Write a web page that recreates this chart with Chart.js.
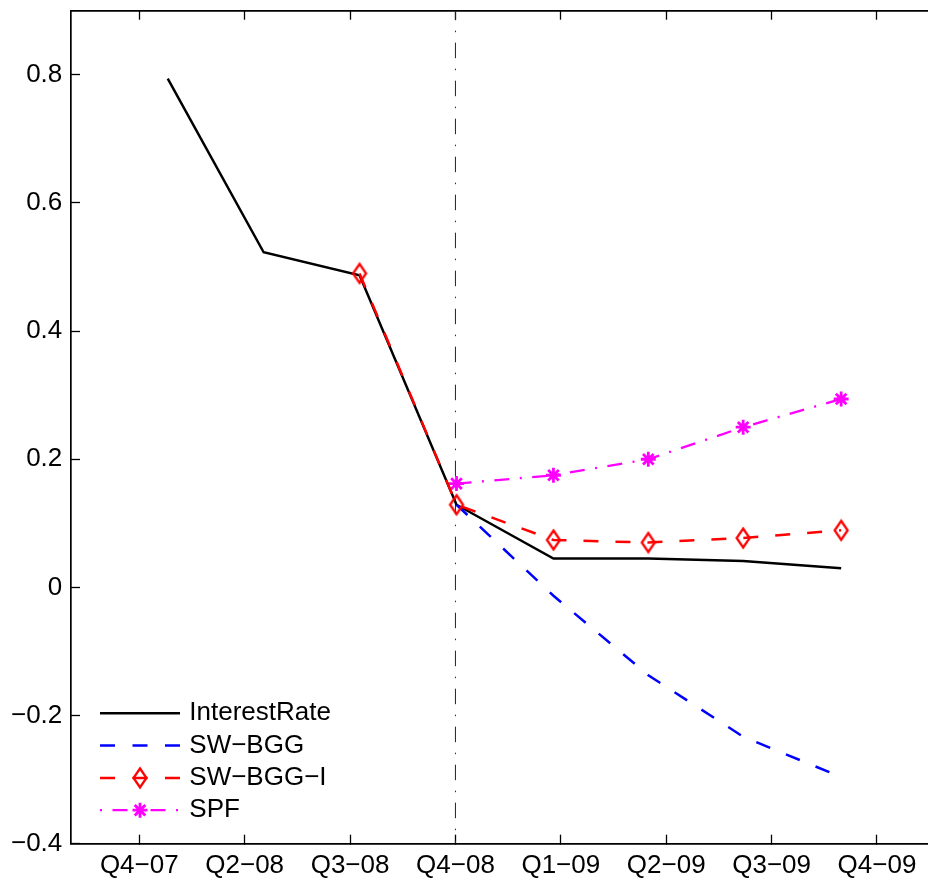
<!DOCTYPE html>
<html>
<head>
<meta charset="utf-8">
<script src="https://cdn.jsdelivr.net/npm/chart.js@4.4.1/dist/chart.umd.min.js"></script>
<style>
html,body{margin:0;padding:0;background:#fff;overflow:hidden}
canvas{display:block}
</style>
</head>
<body>
<canvas id="c" width="928" height="881" style="width:928px;height:881px"></canvas>
<script>
// ---- data ----
const tickLabels = ['Q4\u221207','Q2\u221208','Q3\u221208','Q4\u221208','Q1\u221209','Q2\u221209','Q3\u221209','Q4\u221209'];
const tickPositions = [0, 1, 2, 3, 4, 5, 6, 7];
const periods = [0.27, 1.18, 2.09, 3.01, 3.93, 4.83, 5.73, 6.66];
const interestRate = [0.794, 0.523, 0.487, 0.129, 0.045, 0.045, 0.041, 0.030];
const swBGG = [null, null, null, 0.129, -0.013, -0.137, -0.233, -0.296];
const swBGGI = [null, null, 0.490, 0.129, 0.074, 0.070, 0.077, 0.089];
const spf = [null, null, null, 0.162, 0.175, 0.200, 0.250, 0.294];
const seriesNames = ['InterestRate', 'SW\u2212BGG', 'SW\u2212BGG\u2212I', 'SPF'];
const yTicks = [-0.4, -0.2, 0, 0.2, 0.4, 0.6, 0.8];
const yRange = [-0.4, 0.9];
const xRange = [-0.648, 7.484];
const forecastStart = 3;

// ---- helpers ----
const toXY = (xs, ys) => xs.map((x, i) => ({x: x, y: ys[i]}));
const fmtY = v => v === 0 ? '0' : (v < 0 ? '\u2212' : '') + Math.abs(v).toFixed(1);

function makeDiamond() {
  const cv = document.createElement('canvas');
  cv.width = 18; cv.height = 24;
  const g = cv.getContext('2d');
  g.strokeStyle = '#ff0000';
  g.lineWidth = 2.3;
  g.beginPath();
  g.moveTo(9, 2.5); g.lineTo(15.5, 12); g.lineTo(9, 21.5); g.lineTo(2.5, 12); g.closePath();
  g.stroke();
  return cv;
}
const diamond = makeDiamond();

const FONT = '"Liberation Sans", Arial, Helvetica, sans-serif';
Chart.defaults.font.family = FONT;
Chart.defaults.font.size = 26;
Chart.defaults.color = '#000';

const legendDash = [[], [15, 17.5], [15, 17.5], [2, 10.5, 15, 10.5]];
const LEG = {x: 100, y: 713.3, len: 80, pad: 6.3, gapText: 76.3};

const fixPad = s => { s.paddingTop = 0; s.paddingBottom = 0; s.paddingLeft = 0; s.paddingRight = 0; };
const setTicks = vals => (scale => { scale.ticks = vals.map(v => ({value: v})); });

const legendPlugin = {
  id: 'legendPlugin',
  afterUpdate(chart) {
    const lg = chart.legend;
    if (!lg) return;
    const fs = 26;
    lg.left = LEG.x - LEG.pad;
    lg.top = LEG.y - fs / 2 - LEG.pad;
    lg.right = lg.left + 300;
    lg.width = 300;
    lg.bottom = chart.chartArea.bottom;
    lg.height = lg.bottom - lg.top;
  },
  afterDraw(chart) {
    const lg = chart.legend;
    if (!lg) return;
    const ctx = chart.ctx;
    const fs = 26;
    lg.legendItems.forEach((item, i) => {
      const ds = chart.data.datasets[item.datasetIndex];
      const y = lg.top + LEG.pad + i * (fs + LEG.pad) + fs / 2;
      const x0 = lg.left + LEG.pad;
      ctx.save();
      ctx.strokeStyle = ds.borderColor;
      ctx.lineWidth = ds.borderWidth;
      ctx.setLineDash(legendDash[item.datasetIndex] || []);
      ctx.beginPath();
      ctx.moveTo(x0, y);
      ctx.lineTo(x0 + LEG.len + (item.datasetIndex === 3 ? 1.5 : 0), y);
      ctx.stroke();
      ctx.setLineDash([]);
      const cx = x0 + LEG.len / 2;
      if (ds.pointStyle === diamond) {
        ctx.drawImage(diamond, cx - diamond.width / 2, y - diamond.height / 2);
      } else if (ds.pointStyle === 'star') {
        const r = ds.pointRadius;
        ctx.strokeStyle = ds.borderColor;
        ctx.lineWidth = ds.pointBorderWidth;
        ctx.beginPath();
        for (let k = 0; k < 4; k++) {
          const a = k * Math.PI / 4;
          ctx.moveTo(cx - Math.cos(a) * r, y - Math.sin(a) * r);
          ctx.lineTo(cx + Math.cos(a) * r, y + Math.sin(a) * r);
        }
        ctx.stroke();
      }
      ctx.restore();
    });
  }
};

const axisGrid = {drawOnChartArea: false, drawTicks: true, tickLength: -9, tickWidth: 1.3, tickColor: '#000'};
const axisBorder = {display: true, color: '#000', width: 1.7};

new Chart(document.getElementById('c'), {
  type: 'line',
  data: {
    datasets: [
      {label: seriesNames[0], data: toXY(periods, interestRate), borderColor: '#000000', backgroundColor: '#000000',
        borderWidth: 2.5, pointRadius: 0, order: 3},
      {label: seriesNames[1], data: toXY(periods, swBGG), borderColor: '#0000ff', backgroundColor: '#0000ff',
        borderWidth: 2.5, borderDash: [15, 17], pointRadius: 0, order: 2},
      {label: seriesNames[2], data: toXY(periods, swBGGI), borderColor: '#ff0000', backgroundColor: 'rgba(0,0,0,0)',
        borderWidth: 2.5, borderDash: [15, 17], pointStyle: diamond, pointRadius: 8, order: 1},
      {label: seriesNames[3], data: toXY(periods, spf), borderColor: '#ff00ff', backgroundColor: '#ff00ff',
        borderWidth: 2.3, borderDash: [15, 10.5, 2, 10.5], pointStyle: 'star', pointRadius: 7.5, pointBorderWidth: 2.8, order: 0},
      {label: 'forecast', data: [{x: forecastStart, y: yRange[1]}, {x: forecastStart, y: yRange[0]}],
        borderColor: '#222222', borderWidth: 1, borderDash: [15.5, 10.5, 1.5, 10.5], borderDashOffset: 6,
        pointRadius: 0, order: 4}
    ]
  },
  options: {
    responsive: false,
    animation: false,
    devicePixelRatio: 1,
    layout: {autoPadding: false, padding: {top: 10.7, right: 0, bottom: 0, left: 0}},
    elements: {line: {tension: 0, borderCapStyle: 'butt'}},
    scales: {
      x: {
        type: 'linear', position: 'bottom', min: xRange[0], max: xRange[1],
        afterBuildTicks: setTicks(tickPositions),
        afterFit: s => { s.height = 37.3; fixPad(s); },
        ticks: {autoSkip: false, maxRotation: 0, padding: 15.2,
          callback: v => { const i = tickPositions.indexOf(v); return i >= 0 ? tickLabels[i] : ''; }},
        grid: axisGrid, border: axisBorder
      },
      x2: {
        type: 'linear', position: 'top', min: xRange[0], max: xRange[1],
        afterBuildTicks: setTicks(tickPositions),
        afterFit: s => { s.height = 0; fixPad(s); },
        ticks: {display: false},
        grid: axisGrid, border: axisBorder
      },
      y: {
        type: 'linear', position: 'left', min: yRange[0], max: yRange[1],
        afterBuildTicks: setTicks(yTicks),
        afterFit: s => { s.width = 71; fixPad(s); },
        ticks: {padding: 17.7, callback: v => fmtY(v)},
        grid: axisGrid, border: axisBorder
      }
    },
    plugins: {
      tooltip: {enabled: false},
      legend: {
        display: true, position: 'chartArea', align: 'start',
        labels: {
          boxWidth: LEG.gapText, boxHeight: 0, padding: LEG.pad, color: '#000',
          font: {size: 26, family: FONT},
          generateLabels: chart => chart.data.datasets.slice(0, 4).map((ds, i) => ({
            text: ds.label, datasetIndex: i, fillStyle: 'rgba(0,0,0,0)', strokeStyle: 'rgba(0,0,0,0)',
            lineWidth: 0, hidden: false, fontColor: '#000'
          }))
        }
      }
    }
  },
  plugins: [legendPlugin]
});
</script>
</body>
</html>
